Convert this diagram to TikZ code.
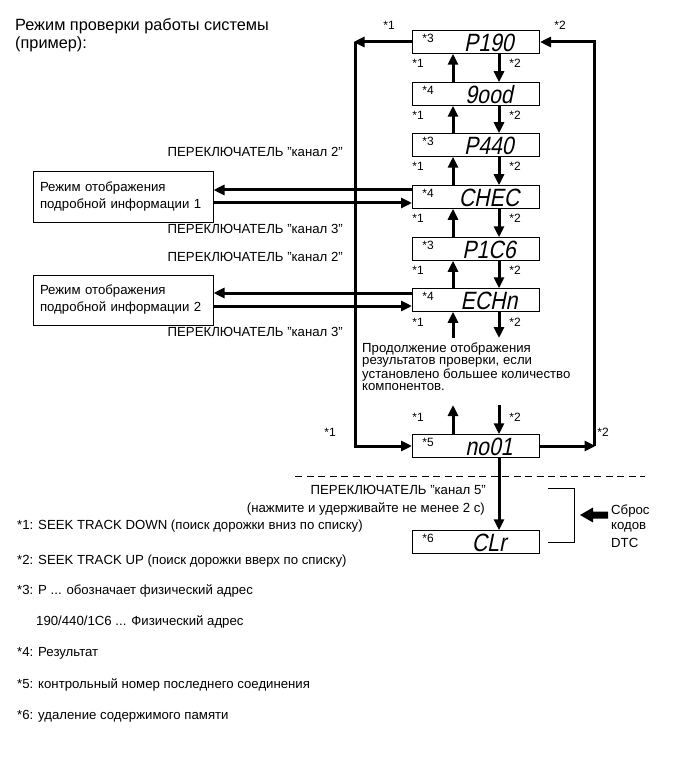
\documentclass[tikz,border=0pt]{standalone}
\usepackage{fontspec}
\setmainfont{Liberation Sans}
\newfontfamily\segfont[FakeSlant=0.2,FakeStretch=0.85]{Liberation Sans}
\usetikzlibrary{arrows.meta}
\begin{document}
\begin{tikzpicture}[x=1pt,y=-1pt,
  disp/.style={draw,line width=1pt,minimum width=127pt,minimum height=22.5pt,inner sep=0pt},
  seg/.style={font=\segfont\fontsize{25}{25}\selectfont,inner sep=0pt},
  star/.style={font=\fontsize{12}{12}\selectfont,inner sep=0pt},
  txt/.style={font=\fontsize{13.2}{15}\selectfont,inner sep=0pt},
  modebox/.style={draw,line width=1pt,minimum width=180pt,minimum height=50pt,text width=166pt,align=left,inner sep=0pt,font=\fontsize{13.2}{17}\selectfont},
  arr/.style={line width=3pt,-{Triangle[length=11pt,width=10pt]}},
  thin/.style={line width=0.9pt}
]
\useasboundingbox (0,0) rectangle (690,759);

% title
\node[txt,anchor=west,font=\fontsize{16.3}{18}\selectfont] (t1) at (15,26) {Режим проверки работы системы};
\node[txt,anchor=west,font=\fontsize{16.3}{18}\selectfont] (t2) at (15,44) {(пример):};

% display boxes
\node[disp] (b1) at (476,42) {};
\node[disp] (b2) at (476,94) {};
\node[disp] (b3) at (476,145) {};
\node[disp] (b4) at (476,197) {};
\node[disp] (b5) at (476,249) {};
\node[disp] (b6) at (476,300) {};
\node[disp] (b7) at (476,446) {};
\node[disp] (b8) at (476,542) {};

\node[seg] (s1) at (489,43) {P190};
\node[seg] (s2) at (489,95) {9ood};
\node[seg] (s3) at (489,146) {P440};
\node[seg] (s4) at (489,198) {CHEC};
\node[seg] (s5) at (489,250) {P1C6};
\node[seg] (s6) at (489,301) {ECHn};
\node[seg] (s7) at (489,447) {no01};
\node[seg] (s8) at (489,543) {CLr};

\node[star] (k1) at (428,38) {*3};
\node[star] (k2) at (428,90) {*4};
\node[star] (k3) at (428,141) {*3};
\node[star] (k4) at (428,193) {*4};
\node[star] (k5) at (428,245) {*3};
\node[star] (k6) at (428,296) {*4};
\node[star] (k7) at (428,442) {*5};
\node[star] (k8) at (428,538) {*6};

% vertical arrow columns
\coordinate (ux) at (453,0);
\coordinate (dx) at (499,0);
\foreach \u/\l/\y in {b1/b2/63,b2/b3/115,b3/b4/166,b4/b5/218,b5/b6/270}{
  \draw[arr] (\l.north -| ux) -- (\u.south -| ux);
  \draw[arr] (\u.south -| dx) -- (\l.north -| dx);
  \node[star] at (418,\y) {*1};
  \node[star] at (515,\y) {*2};
}
\coordinate (e1) at (453,338);
\coordinate (e2) at (499,338);
\draw[arr] (e1) -- (b6.south -| ux);
\draw[arr] (b6.south -| dx) -- (e2);
\node[star] (l61) at (418,322) {*1};
\node[star] (l62) at (515,322) {*2};

\node[txt,anchor=north west,align=left,font=\fontsize{13.2}{12}\selectfont] (cont) at (362,343)
 {Продолжение отображения\\результатов проверки, если\\установлено большее количество\\компонентов.};

\coordinate (f1) at (453,405);
\coordinate (f2) at (499,405);
\draw[arr] (b7.north -| ux) -- (f1);
\draw[arr] (f2) -- (b7.north -| dx);
\node[star] (l71) at (418,417) {*1};
\node[star] (l72) at (515,417) {*2};

% outer loop
\coordinate (cL1) at (355,42);
\coordinate (cL2) at (355,446);
\coordinate (cR1) at (594,42);
\coordinate (cR2) at (594,446);
\draw[arr] (b1.west) -- ([xshift=-1.5pt]cL1);
\draw[arr] (cL1) -- (cL2) -- (b7.west);
\draw[arr] (b7.east) -- ([xshift=1.5pt]cR2);
\draw[arr] (cR2) -- (cR1) -- (b1.east);
\node[star] (o1) at (389,25) {*1};
\node[star] (o2) at (560,25) {*2};
\node[star] (o3) at (330,432) {*1};
\node[star] (o4) at (603,432) {*2};

% detail mode boxes
\node[modebox] (m1) at (123,197) {Режим отображения\\подробной информации 1};
\node[modebox] (m2) at (123,300) {Режим отображения\\подробной информации 2};
\coordinate (a1) at ([yshift=7pt]b4.west);
\coordinate (a2) at ([yshift=-6pt]b4.west);
\coordinate (a3) at ([yshift=7pt]b6.west);
\coordinate (a4) at ([yshift=-6pt]b6.west);
\draw[arr] (a1) -- (a1 -| m1.east);
\draw[arr] (a2 -| m1.east) -- (a2);
\draw[arr] (a3) -- (a3 -| m2.east);
\draw[arr] (a4 -| m2.east) -- (a4);

\node[txt,anchor=east] (p1) at (343,152) {ПЕРЕКЛЮЧАТЕЛЬ "канал 2"};
\node[txt,anchor=east] (p2) at (343,229) {ПЕРЕКЛЮЧАТЕЛЬ "канал 3"};
\node[txt,anchor=east] (p3) at (343,257) {ПЕРЕКЛЮЧАТЕЛЬ "канал 2"};
\node[txt,anchor=east] (p4) at (343,332) {ПЕРЕКЛЮЧАТЕЛЬ "канал 3"};

% bottom part
\coordinate (dl1) at (295,476);
\coordinate (dl2) at (645,476);
\draw[thin,dash pattern=on 7pt off 4.5pt] (dl1) -- (dl2);
\draw[arr] (b7.south -| dx) -- (b8.north -| dx);
\node[txt,anchor=east] (p5) at (486,490) {ПЕРЕКЛЮЧАТЕЛЬ "канал 5"};
\node[txt,anchor=east] (p6) at (485,509) {(нажмите и удерживайте не менее 2 с)};

\coordinate (br1) at (548,488);
\coordinate (br2) at (574,488);
\coordinate (br3) at (574,542);
\coordinate (br4) at (548,542);
\draw[thin] (br1) -- (br2) -- (br3) -- (br4);
\fill (580,515) -- (593,507.5) -- (593,511.5) -- (608,511.5) -- (608,518.5) -- (593,518.5) -- (593,522.5) -- cycle;
\node[txt,anchor=west] (r1) at (611,511) {Сброс};
\node[txt,anchor=west] (r2) at (611,527) {кодов};
\node[txt,anchor=west] (r3) at (611,543) {DTC};

% footnotes
\node[txt,anchor=west] (n1) at (17,526) {*1: SEEK TRACK DOWN (поиск дорожки вниз по списку)};
\node[txt,anchor=west] (n2) at (17,561) {*2: SEEK TRACK UP (поиск дорожки вверх по списку)};
\node[txt,anchor=west] (n3) at (17,591) {*3: P ... обозначает физический адрес};
\node[txt,anchor=west] (n4) at (36,622) {190/440/1C6 ... Физический адрес};
\node[txt,anchor=west] (n5) at (17,653) {*4: Результат};
\node[txt,anchor=west] (n6) at (17,685) {*5: контрольный номер последнего соединения};
\node[txt,anchor=west] (n7) at (17,716) {*6: удаление содержимого памяти};
\end{tikzpicture}
\end{document}
